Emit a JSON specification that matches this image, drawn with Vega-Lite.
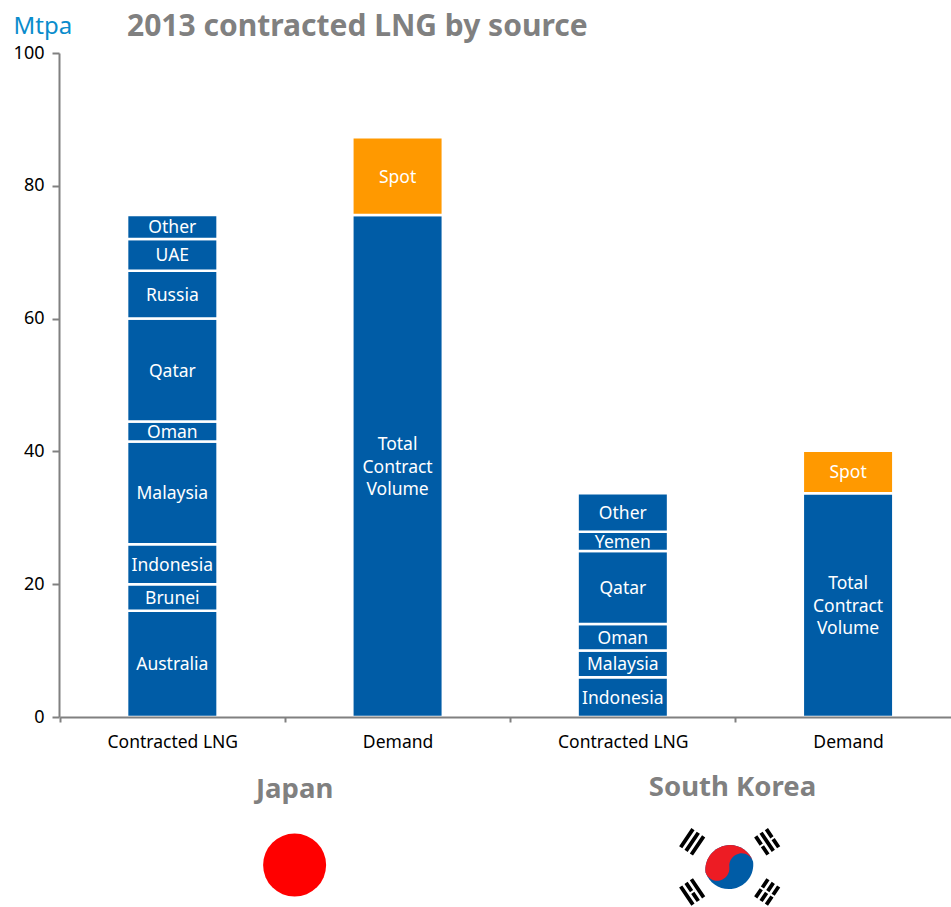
{
  "$schema": "https://vega.github.io/schema/vega-lite/v6.json",
  "width": 892,
  "height": 664,
  "autosize": "none",
  "padding": {"left": 59, "top": 53, "right": 0, "bottom": 190},
  "background": "white",
  "title": {
    "text": "2013 contracted LNG by source",
    "anchor": "start",
    "frame": "group",
    "dx": 68,
    "offset": -28,
    "font": "Noto Sans",
    "fontWeight": "bold",
    "fontSize": 30,
    "color": "#808080"
  },
  "config": {"view": {"stroke": null}},
  "datasets": {
    "volumes": [
      {"column": "Japan|Contracted LNG", "source": "Australia", "kind": "Contract", "seq": 1, "value": 16},
      {"column": "Japan|Contracted LNG", "source": "Brunei", "kind": "Contract", "seq": 2, "value": 4},
      {"column": "Japan|Contracted LNG", "source": "Indonesia", "kind": "Contract", "seq": 3, "value": 6},
      {"column": "Japan|Contracted LNG", "source": "Malaysia", "kind": "Contract", "seq": 4, "value": 15.5},
      {"column": "Japan|Contracted LNG", "source": "Oman", "kind": "Contract", "seq": 5, "value": 3},
      {"column": "Japan|Contracted LNG", "source": "Qatar", "kind": "Contract", "seq": 6, "value": 15.5},
      {"column": "Japan|Contracted LNG", "source": "Russia", "kind": "Contract", "seq": 7, "value": 7.2},
      {"column": "Japan|Contracted LNG", "source": "UAE", "kind": "Contract", "seq": 8, "value": 4.8},
      {"column": "Japan|Contracted LNG", "source": "Other", "kind": "Contract", "seq": 9, "value": 3.6},
      {"column": "Japan|Demand", "source": "Total\nContract\nVolume", "kind": "Contract", "seq": 1, "value": 75.6},
      {"column": "Japan|Demand", "source": "Spot", "kind": "Spot", "seq": 2, "value": 11.7},
      {"column": "South Korea|Contracted LNG", "source": "Indonesia", "kind": "Contract", "seq": 1, "value": 6},
      {"column": "South Korea|Contracted LNG", "source": "Malaysia", "kind": "Contract", "seq": 2, "value": 4},
      {"column": "South Korea|Contracted LNG", "source": "Oman", "kind": "Contract", "seq": 3, "value": 4},
      {"column": "South Korea|Contracted LNG", "source": "Qatar", "kind": "Contract", "seq": 4, "value": 11},
      {"column": "South Korea|Contracted LNG", "source": "Yemen", "kind": "Contract", "seq": 5, "value": 2.9},
      {"column": "South Korea|Contracted LNG", "source": "Other", "kind": "Contract", "seq": 6, "value": 5.8},
      {"column": "South Korea|Demand", "source": "Total\nContract\nVolume", "kind": "Contract", "seq": 1, "value": 33.7},
      {"column": "South Korea|Demand", "source": "Spot", "kind": "Spot", "seq": 2, "value": 6.4}
    ],
    "countries": [
      {"pos": 1.046, "level": -11, "name": "Japan"},
      {"pos": 2.99, "level": -10.7, "name": "South Korea"}
    ]
  },
  "layer": [
    {
      "data": {"name": "volumes"},
      "encoding": {
        "x": {
          "field": "column",
          "type": "nominal",
          "sort": null,
          "title": null,
          "scale": {"range": [0.7, 901.7], "paddingInner": 0, "paddingOuter": 0},
          "axis": {
            "labelExpr": "split(datum.label, '|')[1]",
            "labelAngle": 0,
            "labelFont": "Noto Sans",
            "labelFontSize": 17.5,
            "labelColor": "#000000",
            "labelPadding": 11,
            "tickBand": "extent",
            "tickSize": 5,
            "tickWidth": 2,
            "tickColor": "#808080",
            "domainColor": "#808080",
            "domainWidth": 2,
            "zindex": 1
          }
        }
      },
      "layer": [
        {
          "mark": {"type": "bar", "size": 90.5, "stroke": "white", "strokeWidth": 2.5},
          "encoding": {
            "y": {
              "field": "value",
              "type": "quantitative",
              "stack": "zero",
              "scale": {"domain": [0, 100], "nice": false},
              "axis": {
                "values": [0, 20, 40, 60, 80, 100],
                "grid": false,
                "title": "Mtpa",
                "titleAngle": 0,
                "titleAlign": "left",
                "titleBaseline": "alphabetic",
                "titleX": -46,
                "titleY": -20,
                "titleFont": "Noto Sans",
                "titleFontWeight": "normal",
                "titleFontSize": 24,
                "titleColor": "#0A8CCC",
                "labelFont": "Noto Sans",
                "labelFontSize": 18,
                "labelColor": "#000000",
                "labelPadding": 8,
                "tickSize": 7,
                "tickWidth": 2,
                "tickColor": "#808080",
                "domainColor": "#808080",
                "domainWidth": 2,
                "zindex": 1
              }
            },
            "color": {
              "field": "kind",
              "type": "nominal",
              "scale": {"domain": ["Contract", "Spot"], "range": ["#005CA6", "#FF9900"]},
              "legend": null
            },
            "order": {"field": "seq", "type": "quantitative"}
          }
        },
        {
          "mark": {
            "type": "text",
            "color": "white",
            "font": "Noto Sans",
            "fontSize": 17.5,
            "lineBreak": "\n",
            "lineHeight": 22.5,
            "baseline": "middle",
            "dy": {"expr": "indexof(datum.source, '\\n') >= 0 ? -21 : 1.5"}
          },
          "encoding": {
            "y": {"field": "value", "type": "quantitative", "stack": "zero", "bandPosition": 0.5},
            "text": {"field": "source"},
            "detail": {"field": "seq"},
            "order": {"field": "seq", "type": "quantitative"}
          }
        }
      ]
    },
    {
      "encoding": {
        "x": {"field": "pos", "type": "quantitative", "scale": {"domain": [0, 4], "range": [0, 901]}, "axis": null},
        "y": {"field": "level", "type": "quantitative"}
      },
      "layer": [
        {
          "data": {"name": "countries"},
          "mark": {"type": "text", "font": "Noto Sans", "fontWeight": "bold", "fontSize": 27.5, "color": "#808080"},
          "encoding": {"text": {"field": "name"}}
        },
        {
          "data": {"values": [{"pos": 1.046, "level": -22.3}]},
          "mark": {"type": "point", "shape": "circle", "filled": true, "opacity": 1, "size": 3969, "color": "#FF0000"}
        },
        {
          "data": {"values": [{"pos": 2.976, "level": -22.6}]},
          "mark": {
            "type": "point",
            "shape": "M -0.97 0.22 A 1 1 0 0 1 0.97 -0.22 A 1 1 0 0 1 -0.97 0.22 Z",
            "filled": true,
            "opacity": 1,
            "size": 2401,
            "color": "#005CA6"
          }
        },
        {
          "data": {"values": [{"pos": 2.976, "level": -22.6}]},
          "mark": {
            "type": "point",
            "shape": "M -0.97 0.22 A 1 1 0 0 1 0.97 -0.22 A 0.5 0.5 0 0 0 0 0 A 0.5 0.5 0 0 1 -0.97 0.22 Z",
            "filled": true,
            "opacity": 1,
            "size": 2401,
            "color": "#ED1C24"
          }
        },
        {
          "data": {"values": [{"pos": 2.811, "level": -18.8}]},
          "mark": {
            "type": "point",
            "shape": "M-.73 -.557H.73V-.303H-.73Z M-.73 -.127H.73V.127H-.73Z M-.73 .303H.73V.557H-.73Z",
            "filled": true,
            "opacity": 1,
            "size": 900,
            "angle": 304,
            "color": "#000000"
          }
        },
        {
          "data": {"values": [{"pos": 3.144, "level": -18.8}]},
          "mark": {
            "type": "point",
            "shape": "M-.73 -.557H-.07V-.303H-.73Z M.07 -.557H.73V-.303H.07Z M-.73 -.127H.73V.127H-.73Z M-.73 .303H-.07V.557H-.73Z M.07 .303H.73V.557H.07Z",
            "filled": true,
            "opacity": 1,
            "size": 900,
            "angle": 56,
            "color": "#000000"
          }
        },
        {
          "data": {"values": [{"pos": 2.811, "level": -26.35}]},
          "mark": {
            "type": "point",
            "shape": "M-.73 -.557H.73V-.303H-.73Z M-.73 -.127H-.07V.127H-.73Z M.07 -.127H.73V.127H.07Z M-.73 .303H.73V.557H-.73Z",
            "filled": true,
            "opacity": 1,
            "size": 900,
            "angle": 56,
            "color": "#000000"
          }
        },
        {
          "data": {"values": [{"pos": 3.144, "level": -26.35}]},
          "mark": {
            "type": "point",
            "shape": "M-.73 -.557H-.07V-.303H-.73Z M.07 -.557H.73V-.303H.07Z M-.73 -.127H-.07V.127H-.73Z M.07 -.127H.73V.127H.07Z M-.73 .303H-.07V.557H-.73Z M.07 .303H.73V.557H.07Z",
            "filled": true,
            "opacity": 1,
            "size": 900,
            "angle": 304,
            "color": "#000000"
          }
        }
      ]
    }
  ],
  "resolve": {"scale": {"x": "independent"}}
}
